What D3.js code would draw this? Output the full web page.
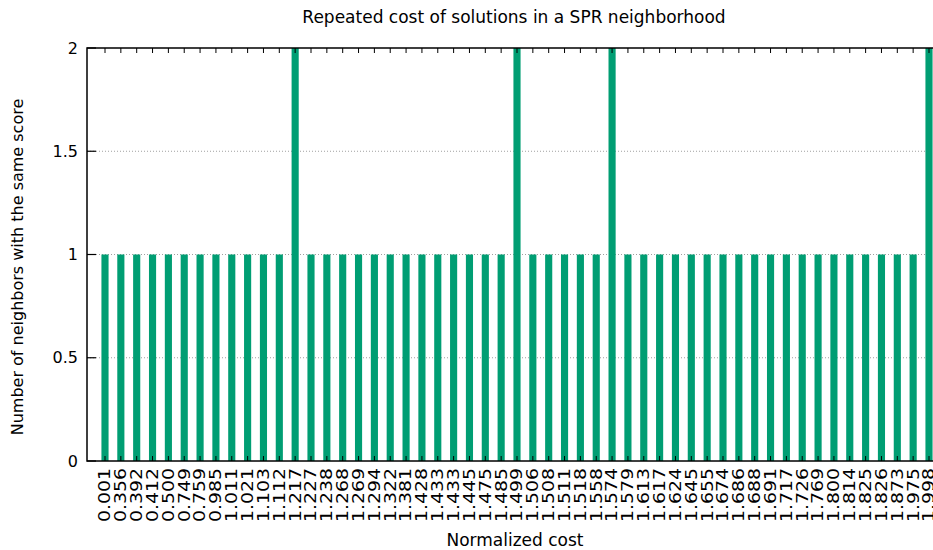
<!DOCTYPE html>
<html>
<head>
<meta charset="utf-8">
<script src="https://cdn.jsdelivr.net/npm/d3@7"></script>
<style>
  html, body { margin: 0; padding: 0; background: #fff; }
  svg { display: block; font-family: "DejaVu Sans", sans-serif; }
</style>
</head>
<body>
<svg id="chart" width="933" height="550"></svg>
<script>
// Normalized cost of each neighbor solution (tick labels, in plot order)
const costLabels = [
  "0.001", "0.356", "0.392", "0.412", "0.500", "0.749", "0.759", "0.985",
  "1.011", "1.021", "1.103", "1.112", "1.217", "1.227", "1.238", "1.268",
  "1.269", "1.294", "1.322", "1.381", "1.428", "1.433", "1.433", "1.445",
  "1.475", "1.485", "1.499", "1.506", "1.508", "1.511", "1.518", "1.558",
  "1.574", "1.579", "1.613", "1.617", "1.624", "1.645", "1.655", "1.674",
  "1.686", "1.688", "1.691", "1.717", "1.726", "1.769", "1.800", "1.814",
  "1.825", "1.826", "1.873", "1.975", "1.998"
];

// How many neighbors share each cost
const neighborCounts = [
  1, 1, 1, 1, 1, 1, 1, 1,
  1, 1, 1, 1, 2, 1, 1, 1,
  1, 1, 1, 1, 1, 1, 1, 1,
  1, 1, 2, 1, 1, 1, 1, 1,
  2, 1, 1, 1, 1, 1, 1, 1,
  1, 1, 1, 1, 1, 1, 1, 1,
  1, 1, 1, 1, 2
];

const yTicks = [0, 0.5, 1, 1.5, 2];
const yTickLabels = ["0", "0.5", "1", "1.5", "2"];

const svg = d3.select("#chart");
const plotLeft = 87, plotTop = 48, plotBottom = 461;
const n = costLabels.length;

// Category index -> bar centre
const x = d3.scaleLinear().domain([0, n - 1]).range([105, 929]);
const unit = x(1) - x(0);
const plotRight = x(n);
const y = d3.scaleLinear().domain([0, 2]).range([plotBottom, plotTop]);
const green = "#009e73";
const barW = 0.45 * unit;

// Horizontal dotted grid
svg.append("g")
  .selectAll("line")
  .data(yTicks.filter(v => v > 0 && v < 2))
  .join("line")
  .attr("x1", plotLeft).attr("x2", plotRight)
  .attr("y1", d => y(d)).attr("y2", d => y(d))
  .attr("stroke", "#a0a0a0")
  .attr("stroke-width", 1)
  .attr("stroke-dasharray", "1,2");

// Bars
svg.append("g")
  .selectAll("rect")
  .data(neighborCounts)
  .join("rect")
  .attr("x", (d, i) => x(i) - barW / 2)
  .attr("width", barW)
  .attr("y", d => y(d))
  .attr("height", d => y(0) - y(d))
  .attr("fill", green);

// Border
svg.append("rect")
  .attr("x", plotLeft).attr("y", plotTop)
  .attr("width", plotRight - plotLeft).attr("height", plotBottom - plotTop)
  .attr("fill", "none").attr("stroke", "#000").attr("stroke-width", 1.5);

// Left axis ticks (inward) and labels
const yAxis = svg.append("g");
yAxis.selectAll("line")
  .data(yTicks)
  .join("line")
  .attr("x1", plotLeft).attr("x2", plotLeft + 9)
  .attr("y1", d => y(d)).attr("y2", d => y(d))
  .attr("stroke", "#000").attr("stroke-width", 1.2);
yAxis.selectAll("text")
  .data(yTicks)
  .join("text")
  .attr("x", plotLeft - 9)
  .attr("y", d => y(d))
  .attr("dy", "0.35em")
  .attr("text-anchor", "end")
  .attr("font-size", 16)
  .attr("fill", "#000")
  .text((d, i) => yTickLabels[i]);

// Category ticks on top and bottom borders
const xt = svg.append("g");
xt.selectAll("line.top")
  .data(costLabels)
  .join("line")
  .attr("class", "top")
  .attr("x1", (d, i) => x(i)).attr("x2", (d, i) => x(i))
  .attr("y1", plotTop).attr("y2", plotTop + 5)
  .attr("stroke", "#000").attr("stroke-width", 1);
xt.selectAll("line.bot")
  .data(costLabels)
  .join("line")
  .attr("class", "bot")
  .attr("x1", (d, i) => x(i)).attr("x2", (d, i) => x(i))
  .attr("y1", plotBottom).attr("y2", plotBottom - 5)
  .attr("stroke", "#000").attr("stroke-width", 1);

// Rotated cost labels (slightly elongated along the reading direction)
xt.selectAll("text")
  .data(costLabels)
  .join("text")
  .attr("transform", (d, i) => `translate(${x(i)},${plotBottom + 7}) rotate(-90) scale(1.26,1)`)
  .attr("dy", "0.36em")
  .attr("text-anchor", "end")
  .attr("font-size", 15)
  .attr("fill", "#000")
  .text(d => d);

// Titles
svg.append("text")
  .attr("x", 514).attr("y", 23)
  .attr("text-anchor", "middle")
  .attr("font-size", 17)
  .text("Repeated cost of solutions in a SPR neighborhood");

svg.append("text")
  .attr("x", 515).attr("y", 546)
  .attr("text-anchor", "middle")
  .attr("font-size", 17)
  .text("Normalized cost");

svg.append("text")
  .attr("transform", "translate(23,267) rotate(-90)")
  .attr("text-anchor", "middle")
  .attr("font-size", 16)
  .text("Number of neighbors with the same score");
</script>
</body>
</html>
